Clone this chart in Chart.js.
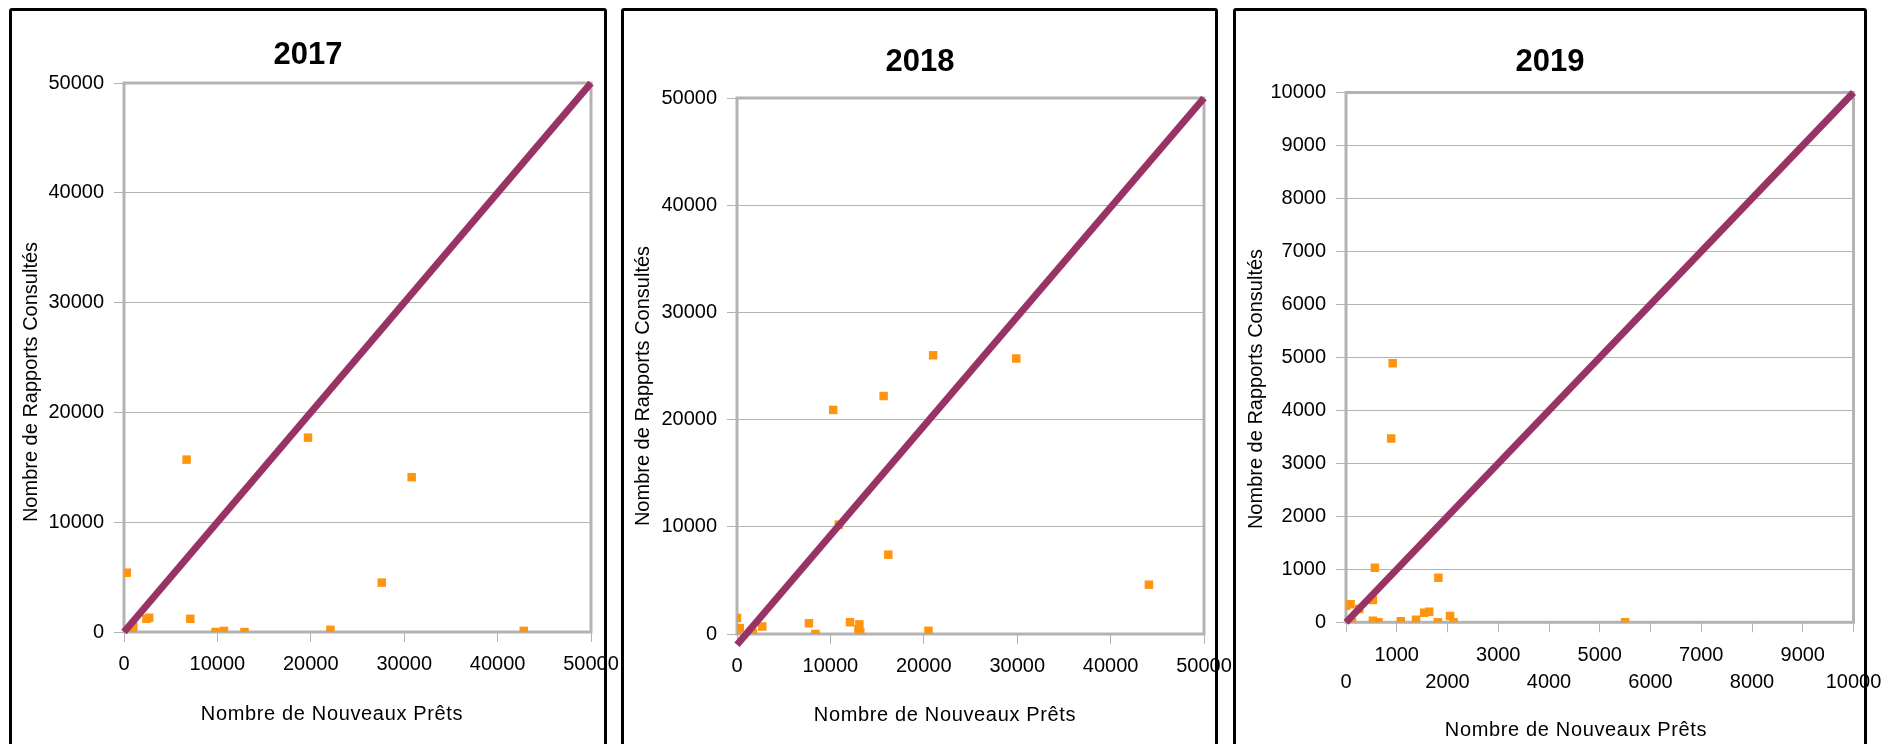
<!DOCTYPE html>
<html lang="fr">
<head>
  <meta charset="UTF-8" />
  <title>Nouveaux prêts vs rapports consultés</title>
  <script src="https://cdn.jsdelivr.net/npm/chart.js"></script>
  <style>
    html, body {
      margin: 0;
      padding: 0;
      background: #fff;
      overflow: hidden;
    }
    body {
      position: relative;
      width: 1883px;
      height: 744px;
    }
    canvas {
      position: absolute;
      top: 0;
    }
    .panel {
      position: absolute;
      top: 8px;
      height: 800px;
      border: 3px solid #000;
      border-radius: 3px;
      box-sizing: border-box;
      z-index: 2;
    }
  </style>
</head>
<body>

  <div class="panel" style="left:9px; width:598px;"></div>
  <div class="panel" style="left:621px; width:597px;"></div>
  <div class="panel" style="left:1233px; width:634px;"></div>

  <canvas id="c2017" width="640" height="744" style="left:0;"></canvas>
  <canvas id="c2018" width="640" height="744" style="left:610px;"></canvas>
  <canvas id="c2019" width="661" height="744" style="left:1222px;"></canvas>

  <script>
    // === Data ===
    const years = ['2017', '2018', '2019'];

    // 2017
    const prets2017    = [0, 700, 900, 1000, 300, 2400, 2700, 7100, 6700, 9800, 10700, 12900, 19700, 22100, 27600, 30800, 42800];
    const rapports2017 = [0, 100, 0, 500, 5400, 1200, 1300, 1200, 15700, 0, 100, 0, 17700, 200, 4500, 14100, 100];
    const diagX2017 = [0, 50000];
    const diagY2017 = [0, 50000];

    // 2018
    const prets2018    = [0, 0, 300, 1700, 2700, 7700, 8400, 10300, 10900, 12100, 13100, 13000, 13200, 15700, 16200, 20500, 21000, 29900, 44100];
    const rapports2018 = [1500, 0, 550, 100, 700, 1000, 0, 20900, 10200, 1100, 900, 450, 150, 22200, 7400, 300, 26000, 25700, 4600];
    const diagX2018 = [0, 50000];
    const diagY2018 = [-1000, 50000];

    // 2019
    const prets2019    = [920, 890, 570, 1820, 530, 0, 90, 260, 0, 120, 530, 640, 1080, 1380, 1540, 1640, 1810, 2050, 2120, 5500];
    const rapports2019 = [4890, 3470, 1030, 840, 420, 310, 340, 250, 0, 0, 30, 0, 20, 50, 180, 200, 0, 120, 0, 0];
    const diagX2019 = [0, 10000];
    const diagY2019 = [0, 10000];

    // axis ranges (ticks run from 0 to max by step)
    const axisMax  = [50000, 50000, 10000];
    const axisStep = [10000, 10000, 1000];

    const xTitle = 'Nombre de Nouveaux Prêts';
    const yTitle = 'Nombre de Rapports Consultés';

    // === Styles ===
    const ORANGE = '#ff950e';
    const PLUM = '#993366';
    const GRID = '#b3b3b3';

    Chart.defaults.font.family = "'Liberation Sans', Arial, sans-serif";
    Chart.defaults.color = '#000';

    // where each plot sits inside its canvas
    const layouts = [
      { pad: { left: 25, right: 49, top: 0, bottom: 0 }, yWidth: 99, xHeight: 112,
        titleTop: 36.4, titleBottom: 9.4, xTitleAt: [332, 714], yTitleAt: [31, 382] },
      { pad: { left: 26, right: 46, top: 0, bottom: 0 }, yWidth: 101, xHeight: 110,
        titleTop: 43.4, titleBottom: 17.4, xTitleAt: [335, 715], yTitleAt: [33, 386] },
      { pad: { left: 24.5, right: 29.5, top: 0, bottom: 0 }, yWidth: 99.5, xHeight: 121.7,
        titleTop: 43.4, titleBottom: 11.9, xTitleAt: [354, 730], yTitleAt: [34, 389] }
    ];

    const toPoints = (xs, ys) => xs.map((x, i) => ({ x: x, y: ys[i] }));

    // gray frame around the plot area
    const framePlugin = {
      id: 'frame',
      beforeDatasetsDraw(chart) {
        const { ctx, chartArea: a } = chart;
        ctx.save();
        ctx.strokeStyle = GRID;
        ctx.lineWidth = 3;
        ctx.strokeRect(a.left, a.top, a.right - a.left, a.bottom - a.top);
        ctx.restore();
      }
    };

    // axis titles placed like the original (not centred on the plot)
    function axisTitles(lay) {
      return {
        id: 'axisTitles',
        afterDraw(chart) {
          const ctx = chart.ctx;
          ctx.save();
          ctx.font = "20px 'Liberation Sans', Arial, sans-serif";
          ctx.fillStyle = '#000';
          ctx.textAlign = 'center';
          ctx.textBaseline = 'middle';
          ctx.letterSpacing = '0.65px';
          ctx.fillText(xTitle, lay.xTitleAt[0], lay.xTitleAt[1]);
          ctx.letterSpacing = '0px';
          ctx.translate(lay.yTitleAt[0], lay.yTitleAt[1]);
          ctx.rotate(-Math.PI / 2);
          ctx.fillText(yTitle, 0, 0);
          ctx.restore();
        }
      };
    }

    function makeChart(i, xs, ys, dx, dy, stagger) {
      const lay = layouts[i];
      const ctx = document.getElementById('c' + years[i]).getContext('2d');
      return new Chart(ctx, {
        type: 'scatter',
        data: {
          datasets: [
            {
              type: 'line',
              label: 'x = y',
              data: toPoints(dx, dy),
              borderColor: PLUM,
              borderWidth: 7,
              pointRadius: 0,
              fill: false,
              clip: false
            },
            {
              label: years[i],
              data: toPoints(xs, ys),
              backgroundColor: ORANGE,
              borderWidth: 0,
              pointStyle: 'rect',
              pointRadius: 6
            }
          ]
        },
        options: {
          responsive: false,
          animation: false,
          events: [],
          layout: { padding: lay.pad },
          scales: {
            x: {
              type: 'linear',
              min: 0,
              max: axisMax[i],
              ticks: {
                stepSize: axisStep[i],
                autoSkip: false,
                maxRotation: 0,
                minRotation: 0,
                padding: 10,
                color: '#000',
                font: { size: 20, lineHeight: stagger ? 1.35 : 1.2 },
                callback: v => stagger && (v / axisStep[i]) % 2 === 0 ? ['', String(v)] : String(v)
              },
              grid: { drawOnChartArea: false, drawTicks: true, tickLength: 10, color: GRID, lineWidth: 1 },
              border: { display: false },
              afterFit(s) {
                s.height = lay.xHeight;
                s.paddingLeft = 0;
                s.paddingRight = 0;
              }
            },
            y: {
              type: 'linear',
              min: 0,
              max: axisMax[i],
              ticks: {
                stepSize: axisStep[i],
                padding: 10,
                color: '#000',
                font: { size: 20 },
                callback: v => String(v)
              },
              grid: { color: GRID, lineWidth: 1, tickLength: 10 },
              border: { display: false },
              afterFit(s) {
                s.width = lay.yWidth;
              }
            }
          },
          plugins: {
            legend: { display: false },
            tooltip: { enabled: false },
            title: {
              display: true,
              text: years[i],
              color: '#000',
              font: { size: 31, weight: 'bold' },
              padding: { top: lay.titleTop, bottom: lay.titleBottom }
            }
          }
        },
        plugins: [framePlugin, axisTitles(lay)]
      });
    }

    makeChart(0, prets2017, rapports2017, diagX2017, diagY2017, false);
    makeChart(1, prets2018, rapports2018, diagX2018, diagY2018, false);
    makeChart(2, prets2019, rapports2019, diagX2019, diagY2019, true);
  </script>

</body>
</html>
